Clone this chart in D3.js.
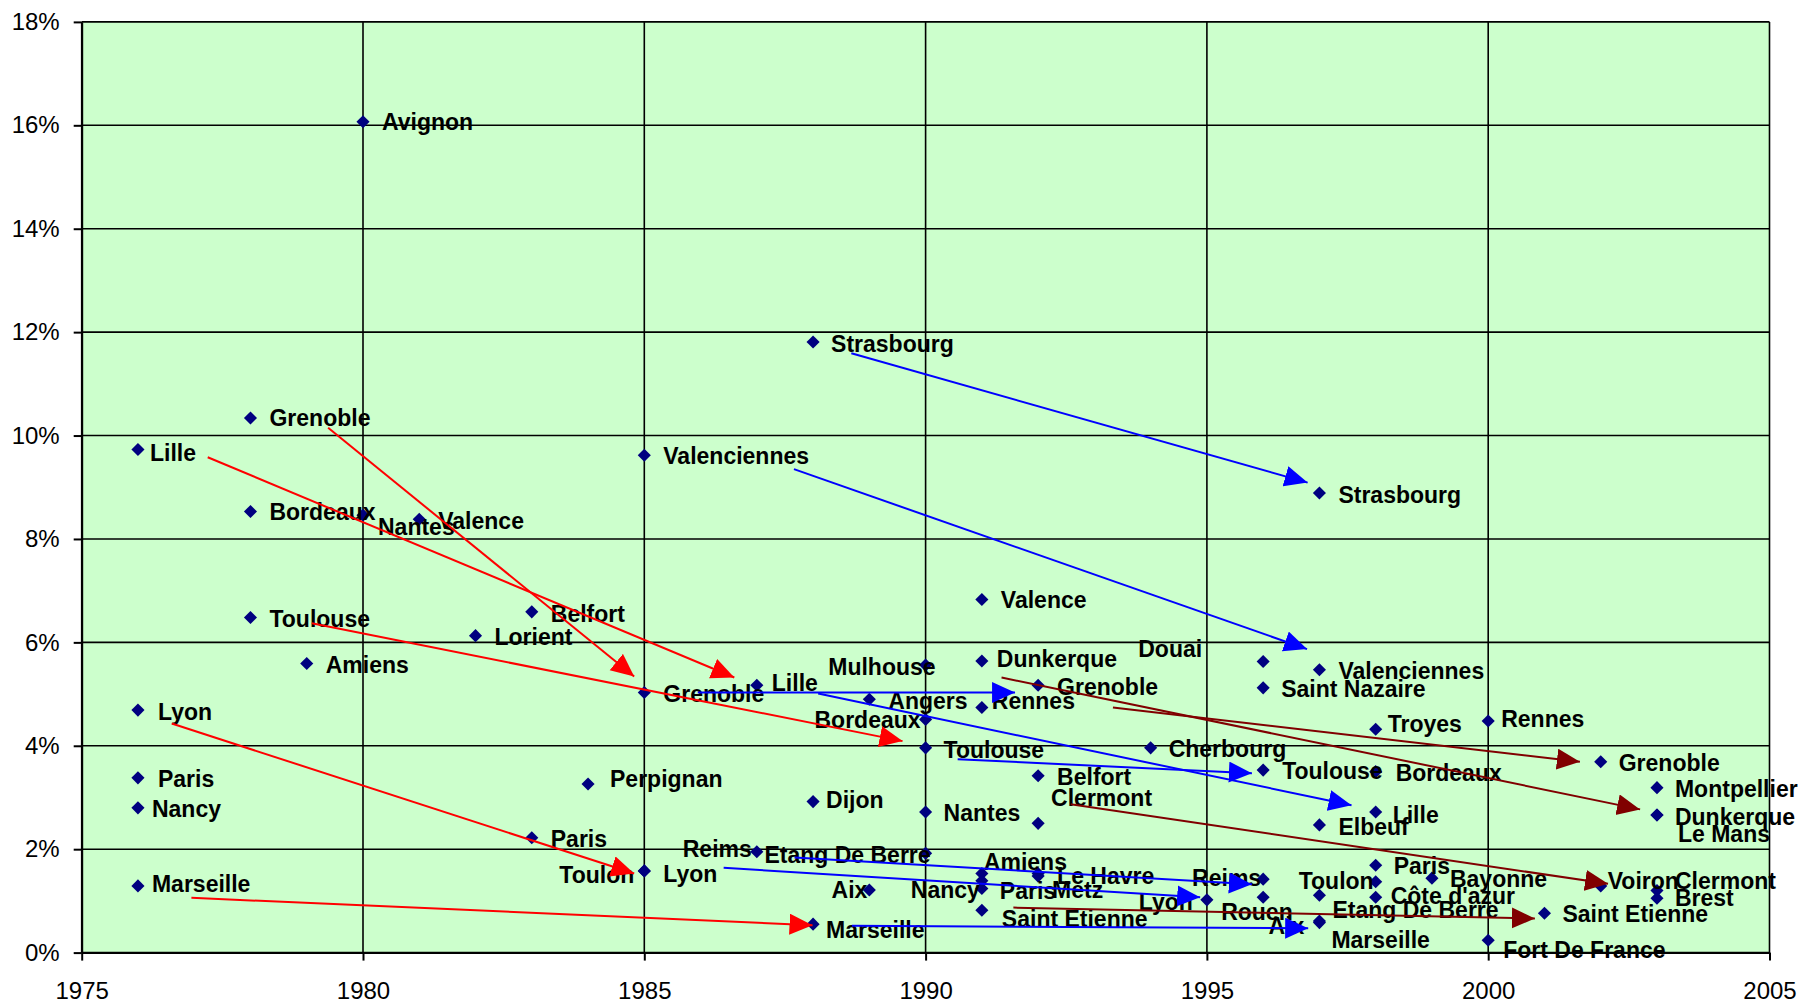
<!DOCTYPE html>
<html>
<head>
<meta charset="utf-8">
<script src="https://cdn.jsdelivr.net/npm/d3@7"></script>
<style>
  body { margin: 0; background: #fff; }
  .axis text { font-family: "Liberation Sans", Arial, sans-serif; font-size: 24px; fill: #000; }
  .city-label { font-family: "Liberation Sans", Arial, sans-serif; font-size: 23px; font-weight: bold; fill: #000; }
</style>
</head>
<body>
<div id="chart"></div>
<script>
// city / year / rate (%) of each point
const cities = [
  'Avignon', 'Grenoble', 'Lille', 'Bordeaux', 'Nantes', 'Valence', 'Toulouse', 'Belfort', 'Lorient', 'Amiens',
  'Lyon', 'Paris', 'Nancy', 'Marseille', 'Perpignan', 'Paris', 'Toulon', 'Lyon', 'Valenciennes', 'Grenoble',
  'Strasbourg', 'Lille', 'Mulhouse', 'Angers', 'Bordeaux', 'Toulouse', 'Dijon', 'Nantes', 'Reims', 'Etang De Berre',
  'Aix', 'Marseille', 'Valence', 'Dunkerque', 'Rennes', 'Grenoble', 'Belfort', 'Clermont', 'Amiens', 'Le Havre',
  'Nancy', 'Paris', 'Metz', 'Saint Etienne', 'Lyon', 'Cherbourg', 'Douai', 'Valenciennes', 'Saint Nazaire', 'Troyes',
  'Rennes', 'Strasbourg', 'Toulouse', 'Bordeaux', 'Lille', 'Elbeuf', 'Reims', 'Rouen', 'Etang De Berre', 'Aix',
  'Marseille', 'Paris', 'Toulon', "Côte d'azur", 'Bayonne', 'Fort De France', 'Grenoble', 'Montpellier', 'Dunkerque', 'Le Mans',
  'Voiron', 'Clermont', 'Brest', 'Saint Etienne'
];
const years = [
  1980, 1978, 1976, 1978, 1980, 1981, 1978, 1983, 1982, 1979,
  1976, 1976, 1976, 1976, 1984, 1983, 1985, 1985, 1985, 1985,
  1988, 1987, 1990, 1989, 1990, 1990, 1988, 1990, 1987, 1990,
  1989, 1988, 1991, 1991, 1991, 1992, 1992, 1992, 1991, 1992,
  1991, 1991, 1992, 1991, 1995, 1994, 1996, 1997, 1996, 1998,
  2000, 1997, 1996, 1998, 1998, 1997, 1996, 1996, 1997, 1997,
  1997, 1998, 1998, 1998, 1999, 2000, 2002, 2003, 2003, 2003,
  2002, 2003, 2003, 2001
];
const rates = [
  16.07, 10.34, 9.73, 8.53, 8.46, 8.38, 6.48, 6.59, 6.13, 5.59,
  4.69, 3.38, 2.80, 1.29, 3.26, 2.22, 1.58, 1.58, 9.62, 5.03,
  11.81, 5.17, 5.56, 4.90, 4.51, 3.96, 2.92, 2.72, 1.95, 1.92,
  1.21, 0.55, 6.83, 5.64, 4.74, 5.17, 3.42, 2.50, 1.53, 1.53,
  1.39, 1.24, 1.48, 0.82, 1.02, 3.96, 5.63, 5.47, 5.12, 4.32,
  4.48, 8.89, 3.53, 3.50, 2.72, 2.47, 1.42, 1.07, 1.11, 0.61,
  0.58, 1.69, 1.37, 1.07, 1.44, 0.24, 3.69, 3.19, 2.66, 2.66,
  1.29, 1.20, 1.05, 0.76
];

// trajectory arrows: [year, rate] at tail and head, and which wave they belong to
const arrowTails = [
  [1977.24, 9.58], [1979.38, 10.15], [1979.09, 6.37], [1976.6, 4.43], [1976.95, 1.06],
  [1988.68, 11.59], [1987.66, 9.35], [1988.09, 5.01], [1985.95, 5.03], [1990.57, 3.74],
  [1987.67, 1.84], [1986.41, 1.64], [1988.69, 0.52],
  [1993.33, 4.74], [1991.35, 5.32], [1992.58, 2.87], [1991.56, 0.87]
];
const arrowHeads = [
  [1986.6, 5.32], [1984.82, 5.34], [1989.59, 4.09], [1984.82, 1.53], [1987.99, 0.53],
  [1996.79, 9.09], [1996.78, 5.87], [1997.57, 2.85], [1991.59, 5.03], [1995.8, 3.47],
  [1995.8, 1.32], [1994.88, 1.07], [1996.8, 0.47],
  [2001.63, 3.69], [2002.7, 2.77], [2002.13, 1.33], [2000.83, 0.66]
];
const arrowWaves = [
  'w1', 'w1', 'w1', 'w1', 'w1',
  'w2', 'w2', 'w2', 'w2', 'w2', 'w2', 'w2', 'w2',
  'w3', 'w3', 'w3', 'w3'
];

const yearTicks = [1975, 1980, 1985, 1990, 1995, 2000, 2005];
const rateTicks = [0, 2, 4, 6, 8, 10, 12, 14, 16, 18];

// label placement (dx, dy in px from the marker, anchor) -- layout only
const labelNudge = [
  [19, 0], [19, 0], [12, 3], [19, 0], [15, 12], [19, 2], [19, 1], [19, 2], [19, 1], [19, 1],
  [20, 2], [20, 1], [14, 1], [14, -2], [22, -5], [19, 1], [-10, 4, 'end'], [19, 3], [19, 1], [19, 1],
  [18, 2], [15, -2], [10, 2, 'end'], [19, 2], [-5, 1, 'end'], [18, 2], [13, -2], [18, 1], [-5, -3, 'end'], [5, 2, 'end'],
  [-2, 0, 'end'], [13, 6], [19, 1], [15, -2], [10, -7], [19, 2], [19, 1], [13, -25], [2, -12], [19, 2],
  [-2, 9, 'end'], [18, 2], [14, 14], [20, 9], [-14, 2, 'end'], [18, 1], [-61, -13, 'end'], [19, 1], [18, 1], [12, -5],
  [13, -2], [19, 2], [19, 1], [20, 1], [17, 3], [19, 2], [-2, -1, 'end'], [-42, 15], [13, 15], [-15, 5, 'end'],
  [12, 17], [18, 1], [-2, -1, 'end'], [15, -1], [18, 1], [15, 10], [18, 1], [18, 1], [18, 2], [21, 19],
  [7, -5], [18, -10], [18, 0], [18, 1]
];

class TrajectoryChart {

  constructor(_config) {
    this.config = {
      parentElement: _config.parentElement,
      containerWidth: 1804,
      containerHeight: 1003,
      margin: {top: 21.9, right: 34.5, bottom: 50.4, left: 81.7},
      waveColors: {w1: '#ff0000', w2: '#0000ff', w3: '#800000'}
    };
    this.points = cities.map((c, i) => ({city: c, year: years[i], rate: rates[i], nudge: labelNudge[i]}));
    this.arrows = arrowTails.map((t, i) => ({from: t, to: arrowHeads[i], wave: arrowWaves[i]}));
    this.initVis();
  }

  initVis() {
    let vis = this;
    const m = vis.config.margin;
    vis.width = vis.config.containerWidth - m.left - m.right;
    vis.height = vis.config.containerHeight - m.top - m.bottom;

    vis.svg = d3.select(vis.config.parentElement).append('svg')
        .attr('width', vis.config.containerWidth)
        .attr('height', vis.config.containerHeight);

    vis.chart = vis.svg.append('g')
        .attr('transform', `translate(${m.left},${m.top})`);

    vis.xScale = d3.scaleLinear().domain([1975, 2005]).range([0, vis.width]);
    vis.yScale = d3.scaleLinear().domain([0, 18]).range([vis.height, 0]);

    // arrow heads, one marker per wave colour
    const defs = vis.svg.append('defs');
    Object.entries(vis.config.waveColors).forEach(([k, col]) => {
      defs.append('marker')
          .attr('id', 'head-' + k)
          .attr('markerUnits', 'userSpaceOnUse')
          .attr('markerWidth', 24).attr('markerHeight', 22)
          .attr('refX', 23).attr('refY', 10.5)
          .attr('orient', 'auto')
        .append('path')
          .attr('d', 'M0,0L23,10.5L0,21Z')
          .attr('fill', col);
    });

    vis.renderVis();
  }

  renderVis() {
    let vis = this;

    vis.chart.append('rect')
        .attr('width', vis.width)
        .attr('height', vis.height)
        .attr('fill', '#ccffcc');

    // grid
    vis.chart.append('g').selectAll('line')
        .data(rateTicks)
      .join('line')
        .attr('x1', 0).attr('x2', vis.width)
        .attr('y1', d => vis.yScale(d)).attr('y2', d => vis.yScale(d))
        .attr('stroke', '#000').attr('stroke-width', 1.6);

    vis.chart.append('g').selectAll('line')
        .data(yearTicks)
      .join('line')
        .attr('y1', 0).attr('y2', vis.height)
        .attr('x1', d => vis.xScale(d)).attr('x2', d => vis.xScale(d))
        .attr('stroke', '#000').attr('stroke-width', 1.6);

    // axes
    const xAxis = d3.axisBottom(vis.xScale)
        .tickValues(yearTicks)
        .tickFormat(d3.format('d'))
        .tickSize(8).tickSizeOuter(0).tickPadding(21);
    const yAxis = d3.axisLeft(vis.yScale)
        .tickValues(rateTicks)
        .tickFormat(d => d + '%')
        .tickSize(8).tickSizeOuter(0).tickPadding(14);

    vis.chart.append('g')
        .attr('class', 'axis x-axis')
        .attr('transform', `translate(0,${vis.height})`)
        .call(xAxis);
    vis.chart.append('g')
        .attr('class', 'axis y-axis')
        .call(yAxis);
    vis.chart.selectAll('.axis path, .axis line')
        .attr('stroke', '#000').attr('stroke-width', 2);

    // markers
    const diamond = d3.symbol().type(d3.symbolSquare).size(86);
    vis.chart.append('g').selectAll('.point')
        .data(vis.points)
      .join('path')
        .attr('class', 'point')
        .attr('d', diamond)
        .attr('transform', d => `translate(${vis.xScale(d.year)},${vis.yScale(d.rate)}) rotate(45)`)
        .attr('fill', '#000080');

    // labels
    vis.chart.append('g').selectAll('.city-label')
        .data(vis.points)
      .join('text')
        .attr('class', 'city-label')
        .attr('x', d => vis.xScale(d.year) + d.nudge[0])
        .attr('y', d => vis.yScale(d.rate) + d.nudge[1])
        .attr('dy', '0.35em')
        .attr('text-anchor', d => d.nudge[2] || 'start')
        .text(d => d.city);

    // trajectories
    vis.chart.append('g').selectAll('.move')
        .data(vis.arrows)
      .join('line')
        .attr('class', 'move')
        .attr('x1', d => vis.xScale(d.from[0])).attr('y1', d => vis.yScale(d.from[1]))
        .attr('x2', d => vis.xScale(d.to[0])).attr('y2', d => vis.yScale(d.to[1]))
        .attr('stroke', d => vis.config.waveColors[d.wave])
        .attr('stroke-width', 2)
        .attr('marker-end', d => `url(#head-${d.wave})`);
  }
}

new TrajectoryChart({parentElement: '#chart'});
</script>
</body>
</html>
